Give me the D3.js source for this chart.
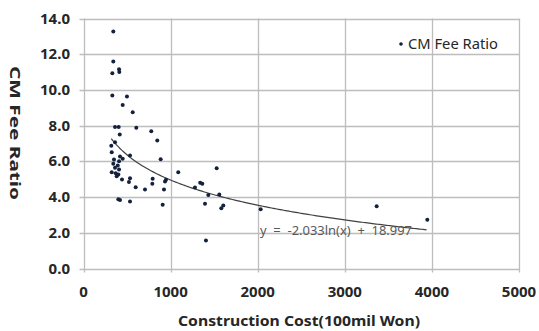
<!DOCTYPE html>
<html>
<head>
<meta charset="utf-8">
<script src="https://cdn.jsdelivr.net/npm/d3@7"></script>
<style>
  body { margin: 0; background: #fff; }
  text { font-family: "Noto Sans", sans-serif; }
</style>
</head>
<body>
<div id="chart"></div>
<script>
// CM fee ratio vs construction cost
var costs = [342, 342, 331, 408, 411, 331, 499, 450, 565, 362, 404, 606, 778, 847, 416, 362, 319, 886,
  324, 534, 419, 450, 350, 408, 342, 393, 362, 408, 324, 370, 400, 381, 1088, 442, 534, 522, 794, 947,
  936, 790, 599, 706, 924, 400, 419, 534, 909, 1280, 1340, 1364, 1529, 1433, 1559, 1395, 1605, 1582,
  2034, 1406, 3366, 3947];
var ratios = [13.27, 11.59, 10.94, 11.16, 11.01, 9.69, 9.63, 9.16, 8.75, 7.93, 7.93, 7.88, 7.69, 7.17, 7.50, 7.07, 6.87, 6.12,
  6.51, 6.33, 6.27, 6.14, 6.10, 6.01, 5.86, 5.77, 5.64, 5.54, 5.39, 5.34, 5.26, 5.17, 5.39, 4.98, 5.06, 4.85, 5.02, 4.97,
  4.87, 4.74, 4.55, 4.42, 4.42, 3.88, 3.83, 3.75, 3.57, 4.53, 4.80, 4.74, 5.62, 4.11, 4.14, 3.62, 3.53, 3.38,
  3.32, 1.57, 3.49, 2.73];
var xTicks = [0, 1000, 2000, 3000, 4000, 5000];
var yTicks = [0, 2, 4, 6, 8, 10, 12, 14];
// log trend: y = a ln(x) + b
var trendA = -2.033, trendB = 18.997;
var trendRange = [319, 3947];
var seriesName = "CM Fee Ratio";
var trendLabel = "y  =  -2.033ln(x)  +  18.997";

var width = 539, height = 331;

var xScale = d3.scaleLinear().domain([0, 5000]).range([83.5, 519]);
var yScale = d3.scaleLinear().domain([0, 14]).range([268.5, 18.5]);

var svg = d3.select("#chart").append("svg")
  .attr("width", width)
  .attr("height", height);

// gridlines
svg.append("g").selectAll("line").data(yTicks).enter().append("line")
  .attr("x1", xScale(0) - 4).attr("x2", xScale(5000))
  .attr("y1", function(d) { return Math.round(yScale(d)) + 0.5; })
  .attr("y2", function(d) { return Math.round(yScale(d)) + 0.5; })
  .attr("stroke", "#bdbdbd").attr("stroke-width", 1.3);
svg.append("g").selectAll("line").data(xTicks).enter().append("line")
  .attr("y1", yScale(14)).attr("y2", yScale(0) + 4)
  .attr("x1", function(d) { return Math.round(xScale(d)) + 0.5; })
  .attr("x2", function(d) { return Math.round(xScale(d)) + 0.5; })
  .attr("stroke", "#bdbdbd").attr("stroke-width", 1.3);

// tick labels
svg.append("g").selectAll("text").data(yTicks).enter().append("text")
  .attr("x", 70).attr("y", function(d) { return yScale(d) + 5; })
  .attr("text-anchor", "end")
  .attr("font-size", 15).attr("font-weight", "bold").attr("fill", "#262626")
  .text(function(d) { return d3.format(".1f")(d); });
svg.append("g").selectAll("text").data(xTicks).enter().append("text")
  .attr("x", function(d) { return xScale(d); }).attr("y", 297)
  .attr("text-anchor", "middle")
  .attr("font-size", 15).attr("font-weight", "bold").attr("fill", "#262626")
  .text(function(d) { return d; });

// axis titles
svg.append("text")
  .attr("x", 178).attr("y", 326)
  .attr("textLength", 242).attr("lengthAdjust", "spacingAndGlyphs")
  .attr("font-size", 15).attr("font-weight", "bold").attr("fill", "#262626")
  .text("Construction Cost(100mil Won)");
svg.append("text")
  .attr("transform", "translate(10,66) rotate(90)")
  .attr("textLength", 134).attr("lengthAdjust", "spacingAndGlyphs")
  .attr("font-size", 15).attr("font-weight", "bold").attr("fill", "#262626")
  .text("CM Fee Ratio");

// trend line
var trendData = d3.range(trendRange[0], trendRange[1] + 1, 20).map(function(x) {
  return [x, trendA * Math.log(x) + trendB];
});
var line = d3.line()
  .x(function(d) { return xScale(d[0]); })
  .y(function(d) { return yScale(d[1]); });
svg.append("path")
  .datum(trendData)
  .attr("d", line)
  .attr("fill", "none")
  .attr("stroke", "#404040")
  .attr("stroke-width", 1.2);

// points
svg.append("g").selectAll("circle").data(costs).enter().append("circle")
  .attr("cx", function(d) { return xScale(d); })
  .attr("cy", function(d, i) { return yScale(ratios[i]); })
  .attr("r", 2)
  .attr("fill", "#14213d");

// trend equation
svg.append("text")
  .attr("x", 260).attr("y", 235)
  .attr("textLength", 152).attr("lengthAdjust", "spacingAndGlyphs")
  .attr("font-size", 12).attr("fill", "#595959")
  .style("white-space", "pre")
  .text(trendLabel);

// legend
svg.append("circle").attr("cx", 401).attr("cy", 44).attr("r", 1.8).attr("fill", "#14213d");
svg.append("text")
  .attr("x", 408).attr("y", 49)
  .attr("textLength", 90).attr("lengthAdjust", "spacingAndGlyphs")
  .attr("font-size", 14).attr("fill", "#262626")
  .text(seriesName);
</script>
</body>
</html>
